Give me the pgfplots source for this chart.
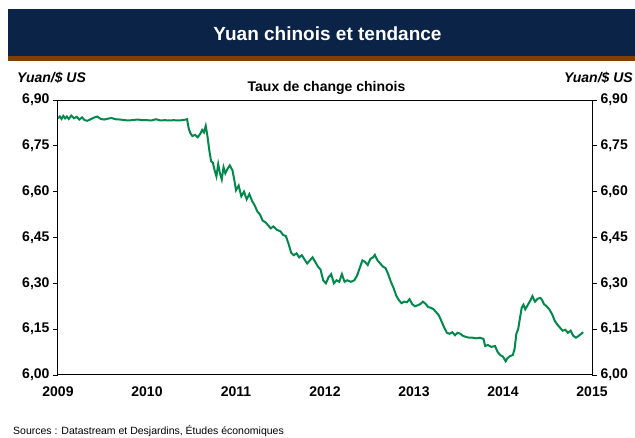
\documentclass[border=0pt]{standalone}
\usepackage{fontspec}
\setmainfont{Liberation Sans}
\usepackage{pgfplots}
\usepackage{pgfplotstable}
\pgfplotsset{compat=1.18}
\definecolor{navy}{HTML}{0A2347}
\definecolor{brownbar}{HTML}{7F3F05}
\definecolor{lignevert}{HTML}{00894B}

\pgfplotstableread{
year rate
2009.00 6.840
2009.02 6.846
2009.04 6.838
2009.06 6.848
2009.08 6.840
2009.10 6.846
2009.12 6.838
2009.15 6.849
2009.18 6.840
2009.21 6.845
2009.24 6.836
2009.27 6.843
2009.30 6.834
2009.33 6.832
2009.36 6.836
2009.40 6.842
2009.44 6.846
2009.48 6.838
2009.52 6.836
2009.56 6.839
2009.60 6.841
2009.65 6.837
2009.70 6.836
2009.75 6.834
2009.80 6.833
2009.85 6.835
2009.90 6.836
2009.95 6.834
2010.00 6.834
2010.05 6.833
2010.10 6.837
2010.15 6.833
2010.20 6.834
2010.25 6.833
2010.30 6.834
2010.35 6.833
2010.40 6.834
2010.45 6.837
2010.47 6.805
2010.49 6.790
2010.51 6.782
2010.54 6.786
2010.57 6.778
2010.60 6.790
2010.62 6.802
2010.64 6.794
2010.66 6.815
2010.68 6.780
2010.70 6.735
2010.72 6.700
2010.74 6.695
2010.76 6.670
2010.78 6.650
2010.80 6.690
2010.82 6.660
2010.84 6.640
2010.86 6.680
2010.88 6.660
2010.90 6.672
2010.93 6.686
2010.96 6.670
2010.98 6.640
2011.00 6.605
2011.03 6.620
2011.06 6.585
2011.09 6.600
2011.12 6.575
2011.15 6.592
2011.18 6.570
2011.21 6.555
2011.24 6.535
2011.27 6.525
2011.30 6.505
2011.33 6.500
2011.36 6.490
2011.39 6.480
2011.42 6.486
2011.46 6.475
2011.50 6.470
2011.53 6.458
2011.56 6.455
2011.59 6.430
2011.62 6.400
2011.65 6.392
2011.68 6.398
2011.71 6.385
2011.74 6.392
2011.77 6.378
2011.80 6.365
2011.83 6.375
2011.86 6.385
2011.89 6.370
2011.92 6.355
2011.95 6.345
2011.98 6.310
2012.01 6.300
2012.04 6.320
2012.07 6.330
2012.10 6.300
2012.13 6.310
2012.16 6.305
2012.19 6.330
2012.22 6.305
2012.25 6.310
2012.29 6.305
2012.33 6.310
2012.36 6.325
2012.39 6.350
2012.42 6.375
2012.45 6.370
2012.48 6.360
2012.51 6.380
2012.54 6.385
2012.56 6.393
2012.59 6.375
2012.62 6.365
2012.65 6.355
2012.68 6.350
2012.71 6.330
2012.74 6.305
2012.77 6.285
2012.80 6.260
2012.83 6.245
2012.86 6.235
2012.89 6.240
2012.92 6.238
2012.95 6.248
2012.98 6.232
2013.01 6.225
2013.04 6.228
2013.07 6.232
2013.10 6.240
2013.13 6.233
2013.16 6.222
2013.19 6.220
2013.22 6.215
2013.25 6.205
2013.28 6.195
2013.31 6.175
2013.34 6.155
2013.37 6.138
2013.40 6.135
2013.43 6.140
2013.46 6.130
2013.49 6.138
2013.52 6.135
2013.55 6.128
2013.58 6.125
2013.62 6.122
2013.66 6.122
2013.70 6.120
2013.74 6.122
2013.78 6.118
2013.80 6.095
2013.83 6.098
2013.87 6.092
2013.91 6.095
2013.94 6.075
2013.97 6.065
2014.00 6.060
2014.03 6.045
2014.05 6.055
2014.08 6.062
2014.11 6.065
2014.13 6.085
2014.15 6.135
2014.17 6.150
2014.19 6.185
2014.21 6.220
2014.23 6.230
2014.25 6.215
2014.28 6.230
2014.31 6.245
2014.33 6.258
2014.36 6.240
2014.39 6.250
2014.42 6.252
2014.44 6.245
2014.46 6.232
2014.49 6.225
2014.52 6.215
2014.55 6.200
2014.58 6.178
2014.61 6.165
2014.64 6.155
2014.67 6.145
2014.70 6.148
2014.73 6.138
2014.76 6.145
2014.79 6.128
2014.82 6.122
2014.85 6.128
2014.88 6.135
2014.90 6.140
}\yuan

\begin{document}
\begin{tikzpicture}
\useasboundingbox (0pt,0pt) rectangle (635pt,438pt);
% bandeau du titre
\fill[navy] (8pt,429pt) rectangle (635pt,382pt);
\fill[brownbar] (8pt,382pt) rectangle (635pt,377pt);
\node[white,font=\bfseries\fontsize{19}{22}\selectfont] at (327.5pt,404pt) {Yuan chinois et tendance};
\node[anchor=west,font=\bfseries\itshape\fontsize{14}{16}\selectfont,inner sep=0pt] at (17pt,360pt) {Yuan/\$ US};
\node[anchor=east,font=\bfseries\itshape\fontsize{14}{16}\selectfont,inner sep=0pt] at (633pt,360pt) {Yuan/\$ US};
\node[font=\bfseries\fontsize{14}{16}\selectfont,inner sep=0pt] at (326.5pt,350pt) {Taux de change chinois};
\node[anchor=west,font=\fontsize{10.5}{12}\selectfont,inner sep=0pt] at (13pt,7pt) {Sources : Datastream et Desjardins, Études économiques};

\begin{axis}[
  at={(58pt,63pt)}, anchor=south west,
  scale only axis, width=534pt, height=275pt,
  xmin=2009, xmax=2015, ymin=6, ymax=6.9,
  xtick={2009,2010,2011,2012,2013,2014,2015},
  xticklabels={2009,2010,2011,2012,2013,2014,2015},
  ytick={6,6.15,6.3,6.45,6.6,6.75,6.9},
  yticklabels={{6,00},{6,15},{6,30},{6,45},{6,60},{6,75},{6,90}},
  ytick pos=left,
  tick align=outside,
  major tick length=5pt,
  xtick style={draw=none},
  ytick style={black, line width=0.8pt},
  axis line style={black, line width=1pt},
  ticklabel style={font=\bfseries\fontsize{14}{16}\selectfont},
  xticklabel style={yshift=-3pt},
]
\addplot[lignevert, line width=2pt] table[x=year,y=rate]{\yuan};
\end{axis}
\begin{axis}[
  at={(58pt,63pt)}, anchor=south west,
  scale only axis, width=534pt, height=275pt,
  xmin=2009, xmax=2015, ymin=6, ymax=6.9,
  axis x line=none, axis y line*=right,
  ytick={6,6.15,6.3,6.45,6.6,6.75,6.9},
  yticklabels={{6,00},{6,15},{6,30},{6,45},{6,60},{6,75},{6,90}},
  tick align=outside,
  major tick length=5pt,
  ytick style={black, line width=0.8pt},
  axis line style={black, line width=1pt, -},
  ticklabel style={font=\bfseries\fontsize{14}{16}\selectfont},
]
\end{axis}
\end{tikzpicture}
\end{document}
